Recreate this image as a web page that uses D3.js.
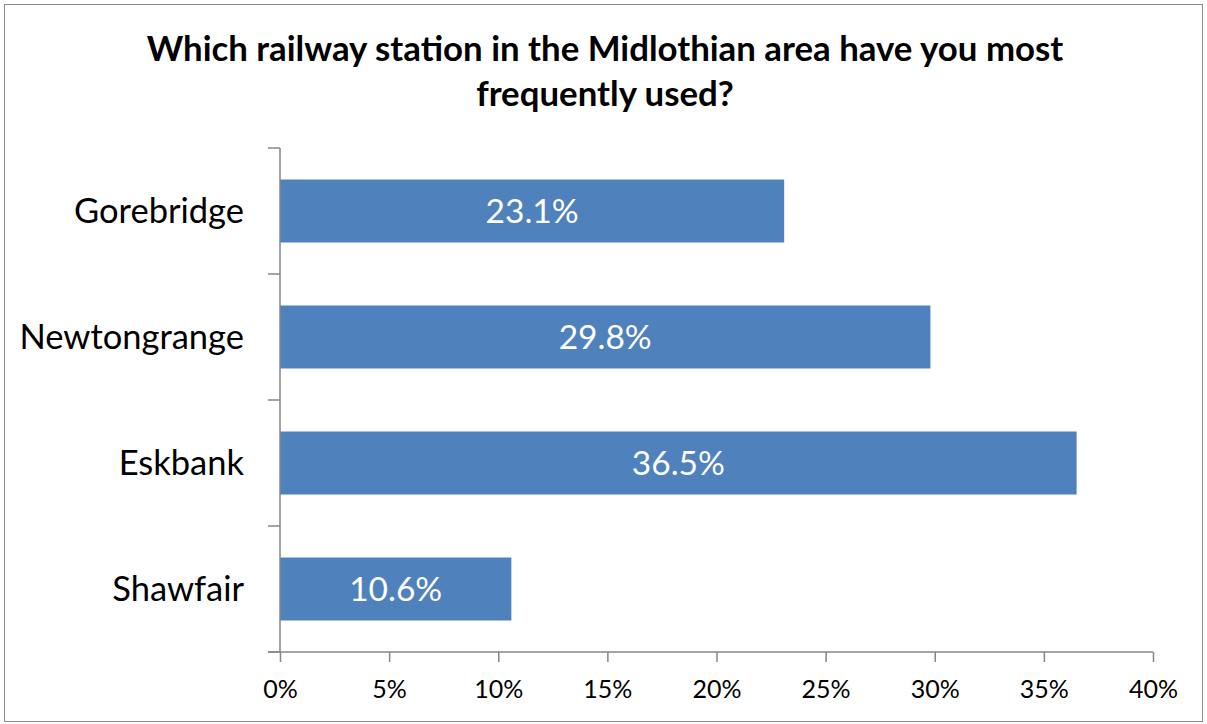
<!DOCTYPE html>
<html>
<head>
<meta charset="utf-8">
<script src="https://cdn.jsdelivr.net/npm/d3@7"></script>
<style>
  html, body { margin: 0; padding: 0; background: #fff; }
  svg { display: block; }
</style>
</head>
<body>
<svg id="chart" width="1207" height="724"></svg>
<script>
// Survey responses: most frequently used Midlothian station
const stations = ["Gorebridge", "Newtongrange", "Eskbank", "Shawfair"];
const shares = [23.1, 29.8, 36.5, 10.6];
const tickValues = [0, 5, 10, 15, 20, 25, 30, 35, 40];
const titleLines = ["Which railway station in the Midlothian area have you most", "frequently used?"];

const W = 1207, H = 724;
const margin = { top: 148, right: 54, bottom: 72, left: 280 };
const FONT = "Lato, 'Open Sans', sans-serif";
const AXIS = "#868686";
const BAR = "#4f81bd";

const svg = d3.select("#chart");

// chart frame
svg.append("rect")
  .attr("x", 4.5).attr("y", 4.5)
  .attr("width", W - 9).attr("height", H - 7)
  .attr("fill", "#fff")
  .attr("stroke", "#8a8a8a").attr("stroke-width", 1);

// title
svg.append("g").selectAll("text").data(titleLines).join("text")
  .attr("x", 605)
  .attr("y", (d, i) => 61 + i * 45)
  .attr("text-anchor", "middle")
  .attr("font-family", FONT)
  .attr("font-weight", "bold")
  .attr("font-size", 34.8)
  .attr("fill", "#000")
  .text(d => d);

const x = d3.scaleLinear().domain([0, 40]).range([margin.left, W - margin.right]);
const y = d3.scaleBand().domain(stations)
  .range([margin.top, H - margin.bottom])
  .paddingInner(0.5).paddingOuter(0.25);

// bars
svg.append("g").selectAll("rect").data(stations).join("rect")
  .attr("x", x(0))
  .attr("y", d => y(d))
  .attr("width", (d, i) => x(shares[i]) - x(0))
  .attr("height", y.bandwidth())
  .attr("fill", BAR);

// value labels
svg.append("g").selectAll("text").data(stations).join("text")
  .attr("x", (d, i) => (x(0) + x(shares[i])) / 2)
  .attr("y", d => y(d) + y.bandwidth() / 2)
  .attr("dy", "0.36em")
  .attr("text-anchor", "middle")
  .attr("font-family", FONT)
  .attr("font-size", 33.5)
  .attr("fill", "#fff")
  .text((d, i) => shares[i].toFixed(1) + "%");

// x axis
const xAxis = d3.axisBottom(x)
  .tickValues(tickValues)
  .tickFormat(d => d + "%")
  .tickSize(10)
  .tickSizeOuter(0);
const gx = svg.append("g")
  .attr("transform", `translate(0,${H - margin.bottom})`)
  .call(xAxis);
gx.select(".domain").remove();
gx.append("line")
  .attr("x1", x(0) - 12).attr("x2", x(40))
  .attr("stroke", AXIS).attr("stroke-width", 1.5);
gx.selectAll(".tick line").attr("stroke", AXIS).attr("stroke-width", 1.5);
gx.selectAll(".tick text")
  .attr("font-family", FONT).attr("font-size", 25).attr("fill", "#000")
  .attr("y", 28);

// y axis: category boundaries marked with ticks
const yBounds = stations.map(d => y(d) - y.step() * y.paddingInner() / 2)
  .concat([H - margin.bottom]);
const gy = svg.append("g");
gy.append("line")
  .attr("x1", x(0)).attr("x2", x(0))
  .attr("y1", margin.top).attr("y2", H - margin.bottom)
  .attr("stroke", AXIS).attr("stroke-width", 1.5);
gy.selectAll("line.tk").data(yBounds).join("line")
  .attr("class", "tk")
  .attr("x1", x(0) - 12).attr("x2", x(0))
  .attr("y1", d => d).attr("y2", d => d)
  .attr("stroke", AXIS).attr("stroke-width", 1.5);
gy.selectAll("text").data(stations).join("text")
  .attr("x", x(0) - 36)
  .attr("y", d => y(d) + y.bandwidth() / 2)
  .attr("dy", "0.36em")
  .attr("text-anchor", "end")
  .attr("font-family", FONT)
  .attr("font-size", 34.5)
  .attr("fill", "#000")
  .text(d => d);
</script>
</body>
</html>
